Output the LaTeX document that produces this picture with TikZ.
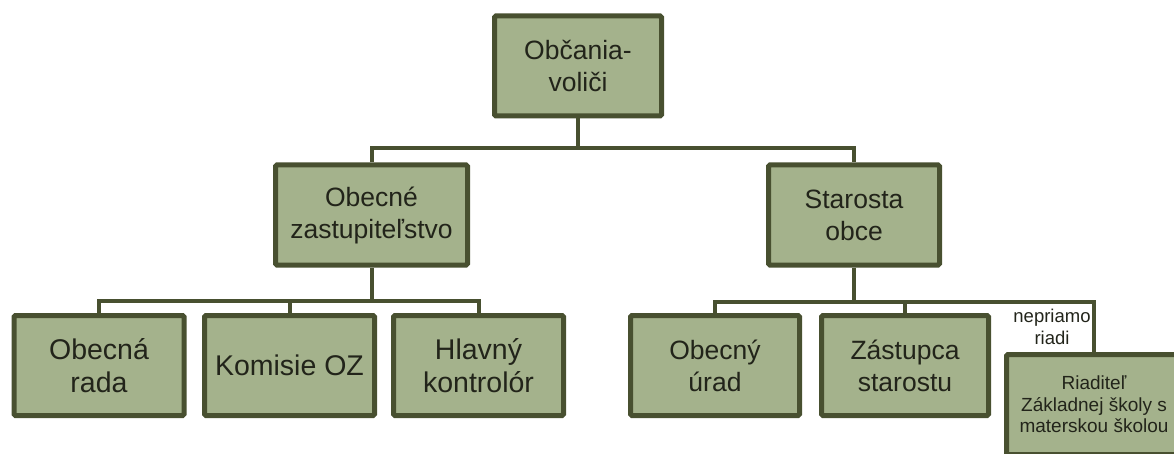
\documentclass[tikz,border=0pt]{standalone}
\usepackage{fontspec}
\setmainfont{Liberation Sans}
\definecolor{boxfill}{RGB}{164,178,140}
\definecolor{boxline}{RGB}{72,80,48}
\definecolor{txt}{RGB}{34,36,26}
\begin{document}
\begin{tikzpicture}[x=1pt,y=-1pt,
  box/.style={draw=boxline, fill=boxfill, line width=5pt, rounded corners=1.5pt,
    inner sep=0pt, align=center, text=txt, minimum height=100pt},
  big/.style={font=\fontsize{28.5}{33}\selectfont},
  mid/.style={font=\fontsize{26.5}{32}\selectfont},
  small/.style={font=\fontsize{19}{21.5}\selectfont},
  conn/.style={draw=boxline, line width=4pt}]
\useasboundingbox (0,0) rectangle (1174,454);
\clip (0,0) rectangle (1174,454);

\node[box, mid, minimum width=167pt] (top) at (578,66) {Občania-\\voliči};
\node[box, mid, minimum width=192pt] (zast) at (371.5,215) {Obecné\\zastupiteľstvo};
\node[box, mid, minimum width=171pt] (star) at (854,215) {Starosta\\obce};

\node[box, big, minimum width=170pt] (rada) at (99,365.5) {Obecná\\rada};
\node[box, big, minimum width=170pt] (kom) at (289.5,365.5) {Komisie OZ};
\node[box, big, minimum width=170pt] (kontr) at (478.5,365.5) {Hlavný\\kontrolór};

\node[box, mid, minimum width=169pt] (urad) at (715,365.5) {Obecný\\úrad};
\node[box, mid, minimum width=167pt] (zast2) at (905,365.5) {Zástupca\\starostu};
\node[box, small, minimum width=175pt] (riad) at (1094,404.5) {Riaditeľ\\Základnej školy s\\materskou školou};

\node[font=\fontsize{18.5}{22}\selectfont, text=txt, align=center, inner sep=0pt] (npr) at (1052,327) {nepriamo\\riadi};

% connectors
\coordinate (b1) at (578,148);
\draw[conn] (top.south) -- (b1);
\draw[conn] (zast.north) |- (b1) -| (star.north);

\coordinate (b2) at (371.5,301);
\draw[conn] (zast.south) -- (b2);
\draw[conn] (rada.north) |- (b2) -| (kontr.north);
\draw[conn] (kom.north) -- (kom.north |- b2);

\coordinate (b3) at (854,302);
\draw[conn] (star.south) -- (b3);
\draw[conn] (urad.north) |- (b3) -| (riad.north);
\draw[conn] (zast2.north) -- (zast2.north |- b3);
\end{tikzpicture}
\end{document}
